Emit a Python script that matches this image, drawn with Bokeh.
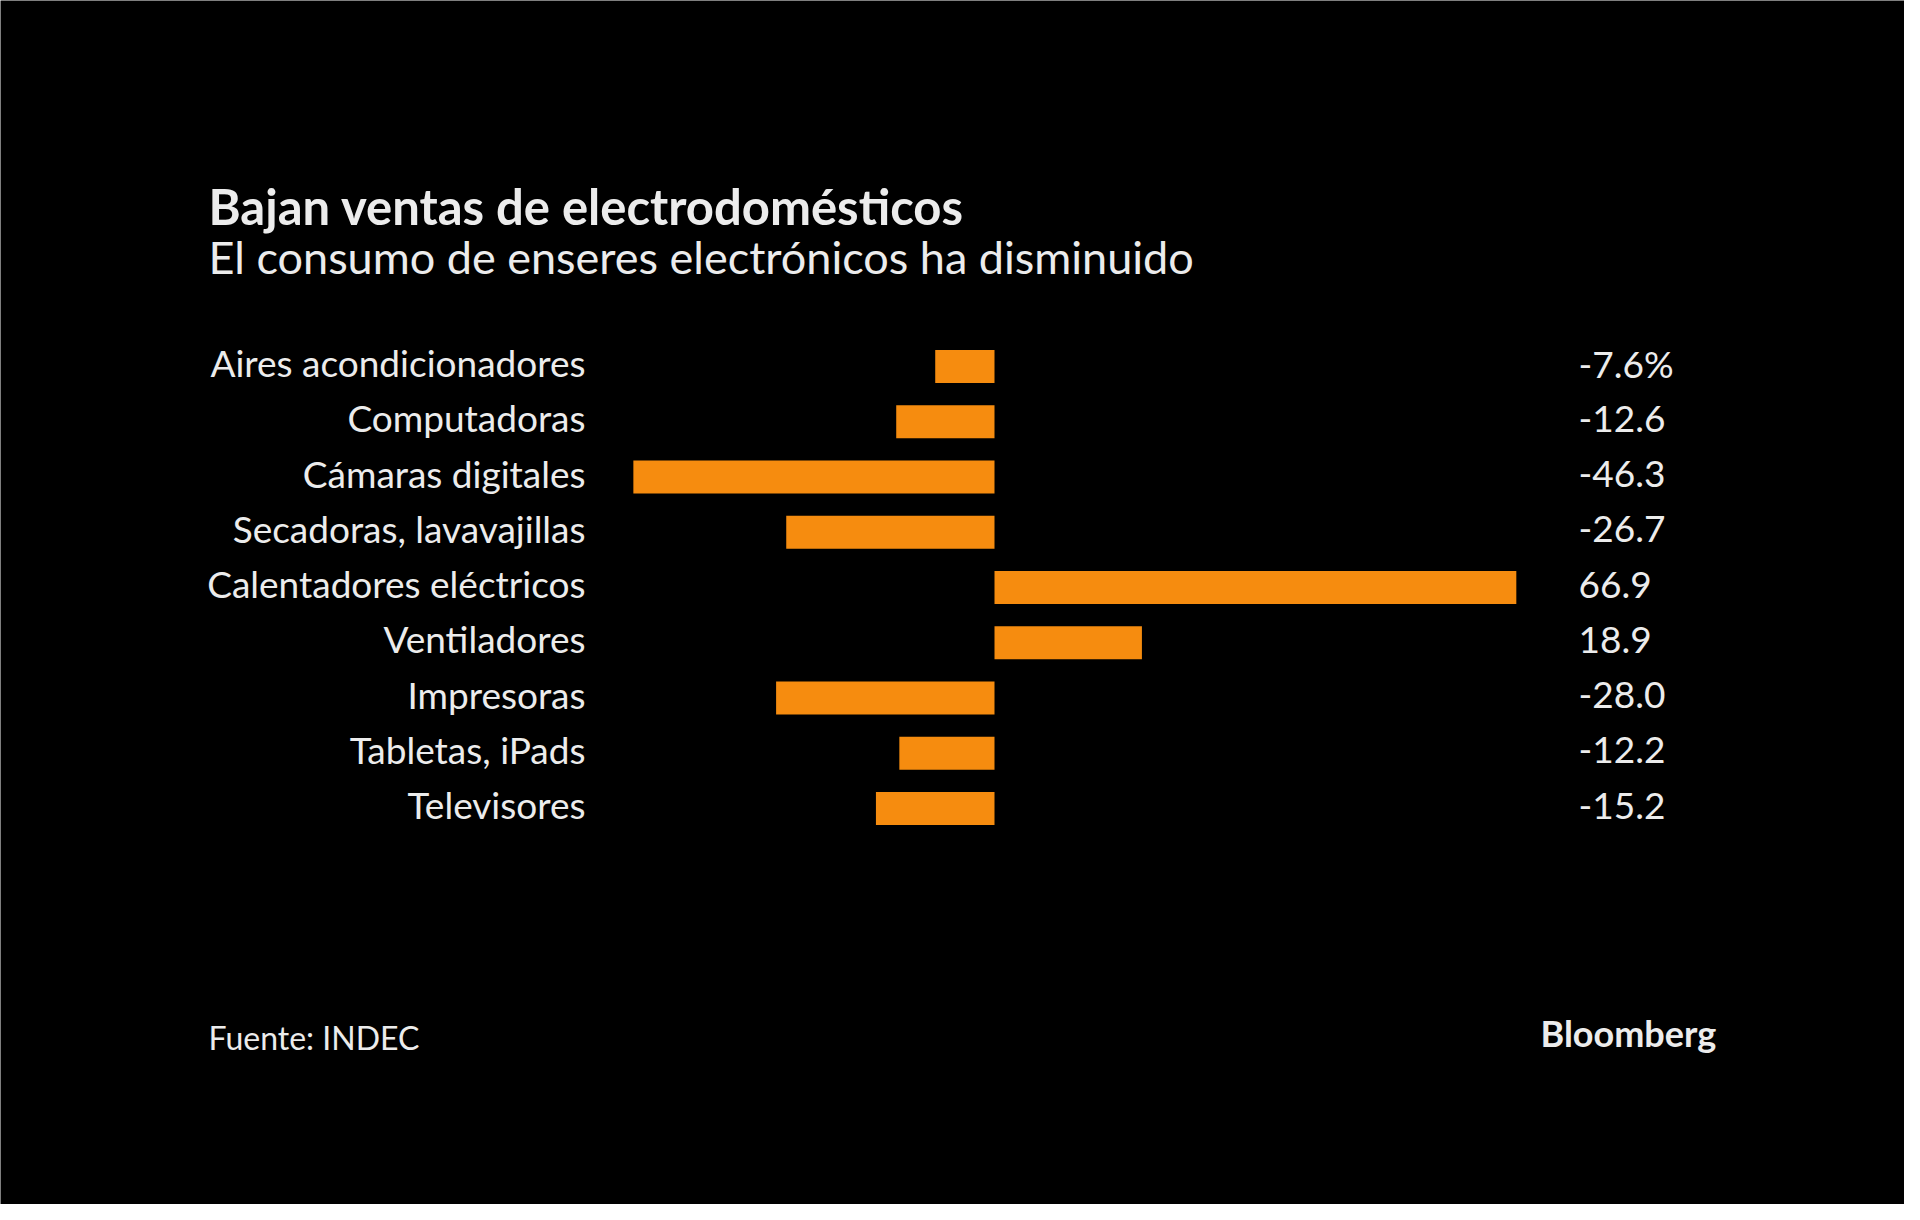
from bokeh.plotting import figure
from bokeh.models import Label, Range1d, ColumnDataSource
from bokeh.core.properties import value
from bokeh.embed import file_html
from bokeh.resources import INLINE

categories = ["Aires acondicionadores", "Computadoras", "Cámaras digitales",
              "Secadoras, lavavajillas", "Calentadores eléctricos", "Ventiladores",
              "Impresoras", "Tabletas, iPads", "Televisores"]
values = [-7.6, -12.6, -46.3, -26.7, 66.9, 18.9, -28.0, -12.2, -15.2]
value_labels = [f"{v:.1f}" for v in values]
value_labels[0] = value_labels[0] + "%"

title_text = "Bajan ventas de electrodomésticos"
subtitle_text = "El consumo de enseres electrónicos ha disminuido"
source_text = "Fuente: INDEC"
brand_text = "Bloomberg"

FONT = "Lato"
BG = "#000000"
TXT = "#ececec"
BAR = "#f68c0f"

W, H = 1904, 1204
ZERO_PX = 994.0      # pixel position of zero
PX_PER_UNIT = 7.80
ROW0_PX = 366.0
ROW_PX = 55.25

x_range = Range1d(-ZERO_PX / PX_PER_UNIT, (W - ZERO_PX) / PX_PER_UNIT)
y_range = Range1d((H - ROW0_PX) / ROW_PX, -ROW0_PX / ROW_PX)

p = figure(width=W, height=H, output_backend="svg", toolbar_location=None,
           x_range=x_range, y_range=y_range,
           min_border=0, min_border_left=0, min_border_right=0,
           min_border_top=0, min_border_bottom=0)
p.background_fill_color = BG
p.border_fill_color = BG
p.outline_line_color = None
p.outline_line_alpha = 0
p.grid.visible = False
p.axis.visible = False

rows = list(range(len(categories)))
src = ColumnDataSource(dict(row=rows, cat=categories, val=values, lab=value_labels,
                            zero=[0] * len(values)))
p.hbar(y="row", left="zero", right="val", height=0.6, source=src,
       fill_color=BAR, line_color=None)
p.text(x="zero", y="row", text="cat", source=src, x_offset=-409, y_offset=-4,
       text_font=value(FONT), text_font_size="37px", text_color=TXT,
       text_baseline="middle", text_align="right")
p.text(x="zero", y="row", text="lab", source=src, x_offset=584, y_offset=-3,
       text_font=value(FONT), text_font_size="37px", text_color=TXT,
       text_baseline="middle", text_align="left")

def lab(t, x, y, size, style="normal"):
    p.add_layout(Label(x=x, y=y, x_units="screen", y_units="screen", text=t,
                       text_font=FONT, text_font_size=size, text_font_style=style,
                       text_color=TXT, text_baseline="alphabetic"))

lab(title_text, 208, H - 205, "49px", "bold")
lab(subtitle_text, 208, H - 256, "45px")
lab(source_text, 208, H - 1037, "32px")
lab(brand_text, 1540, H - 1032, "36px", "bold")

open("out.html", "w").write(file_html(p, INLINE))
